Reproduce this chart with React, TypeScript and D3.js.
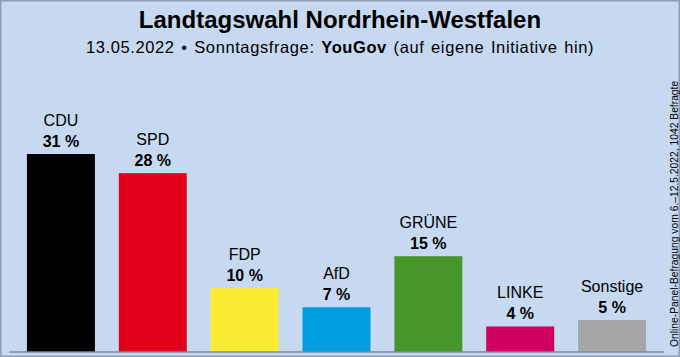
import React from "react";
import * as d3 from "d3";

const parties = ["CDU", "SPD", "FDP", "AfD", "GRÜNE", "LINKE", "Sonstige"];
const values = [31, 28, 10, 7, 15, 4, 5];
const colors = ["#000000", "#e2001a", "#fbeb33", "#009ee0", "#46962b", "#d0005e", "#a6a6a6"];

const title = "Landtagswahl Nordrhein-Westfalen";
const subtitleA = "13.05.2022 • Sonntagsfrage: ";
const subtitleB = "YouGov";
const subtitleC = " (auf eigene Initiative hin)";
const sideNote = "Online-Panel-Befragung vom 6.–12.5.2022, 1042 Befragte";

const W = 680;
const H = 357;
const FONT = "'Liberation Sans', Arial, Helvetica, sans-serif";

export default function App() {
  const x = d3.scaleBand<string>().domain(parties).range([15, 658]).paddingInner(0.26).paddingOuter(0.13);
  const y = d3.scaleLinear().domain([0, 31]).range([352, 154]);
  const base = y(0);

  return (
    <div style={{ position: "absolute", left: 0, top: 0 }}>
      <svg width={W} height={H} style={{ display: "block", fontFamily: FONT }}>
        <rect x={0} y={0} width={W} height={H} fill="#c6d9f0" />
        <rect x={0.75} y={0.75} width={W - 1.5} height={H - 1.5} fill="none" stroke="#8d9db4" strokeWidth={1.5} />
        <text x={340} y={28} textAnchor="middle" fontSize={24} fontWeight="bold" fill="#000">{title}</text>
        <text x={340} y={53} textAnchor="middle" fontSize={16.5} fill="#000" style={{ letterSpacing: "0.6px", wordSpacing: "1.5px" }}>
          <tspan>{subtitleA}</tspan>
          <tspan fontWeight="bold">{subtitleB}</tspan>
          <tspan>{subtitleC}</tspan>
        </text>
        {parties.map((p, i) => {
          const bx = x(p)!;
          const bw = x.bandwidth();
          const top = y(values[i]);
          const cx = bx + bw / 2;
          return (
            <g key={p}>
              <rect x={bx} y={top} width={bw} height={base - top} fill={colors[i]} />
              <text x={cx} y={top - 28} textAnchor="middle" fontSize={16} fill="#000">{p}</text>
              <text x={cx} y={top - 7} textAnchor="middle" fontSize={16} fontWeight="bold" fill="#000">{values[i]} %</text>
            </g>
          );
        })}
        <line x1={9} x2={664} y1={base} y2={base} stroke="#7f8898" strokeWidth={1.5} />
        <text transform={`translate(678,347) rotate(-90)`} fontSize={10.3} fill="#000">{sideNote}</text>
      </svg>
    </div>
  );
}
